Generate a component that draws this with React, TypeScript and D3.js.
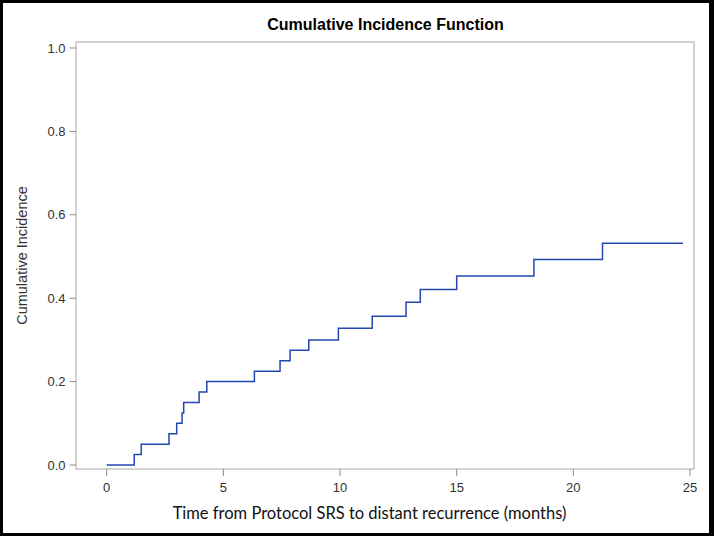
import React from "react";
import * as d3 from "d3";

const times = [0, 1.18, 1.48, 2.67, 3.0, 3.23, 3.3, 3.96, 4.29, 6.33, 7.43, 7.86, 8.66, 9.93, 11.38, 12.83, 13.44, 15.0, 18.31, 21.25, 24.7];
const incidence = [0, 0.025, 0.05, 0.075, 0.1, 0.125, 0.15, 0.175, 0.2, 0.225, 0.25, 0.275, 0.3, 0.328, 0.357, 0.39, 0.421, 0.453, 0.493, 0.532, 0.532];
const xTicks = [0, 5, 10, 15, 20, 25];
const yTicks = [0, 0.2, 0.4, 0.6, 0.8, 1.0];

const W = 714;
const H = 536;
const frame = { left: 76, right: 694, top: 42, bottom: 469 };

export default function App() {
  const x = d3.scaleLinear().domain([0, 25]).range([106.7, 690]);
  const y = d3.scaleLinear().domain([0, 1]).range([465, 48]);
  const pts: [number, number][] = times.map((t, i) => [t, incidence[i]]);
  const line = d3
    .line<[number, number]>()
    .x((d) => x(d[0]))
    .y((d) => y(d[1]))
    .curve(d3.curveStepAfter);

  const tickFont = "'Liberation Sans', Arial, sans-serif";
  return (
    <svg
      width={W}
      height={H}
      style={{ position: "absolute", left: 0, top: 0, background: "#fff" }}
    >
      <rect x={0} y={0} width={W} height={H} fill="#fff" />
      <text
        x={385.5}
        y={30}
        textAnchor="middle"
        fontFamily={tickFont}
        fontWeight="bold"
        fontSize={16}
        fill="#000"
      >
        Cumulative Incidence Function
      </text>
      <rect
        x={frame.left}
        y={frame.top}
        width={frame.right - frame.left}
        height={frame.bottom - frame.top}
        fill="none"
        stroke="#a8a8a8"
        strokeWidth={1}
      />
      {yTicks.map((v) => (
        <g key={"y" + v}>
          <line x1={69.5} x2={frame.left} y1={y(v)} y2={y(v)} stroke="#8c8c8c" strokeWidth={1} />
          <text
            x={65.5}
            y={y(v) + 4.5}
            textAnchor="end"
            fontFamily={tickFont}
            fontSize={13}
            fill="#333"
          >
            {v.toFixed(1)}
          </text>
        </g>
      ))}
      {xTicks.map((v) => (
        <g key={"x" + v}>
          <line x1={x(v)} x2={x(v)} y1={frame.bottom} y2={476} stroke="#8c8c8c" strokeWidth={1} />
          <text
            x={x(v)}
            y={492}
            textAnchor="middle"
            fontFamily={tickFont}
            fontSize={13}
            fill="#333"
          >
            {v}
          </text>
        </g>
      ))}
      <text
        transform={`translate(27,255.5) rotate(-90)`}
        textAnchor="middle"
        fontFamily={tickFont}
        fontSize={14.5}
        fill="#333"
      >
        Cumulative Incidence
      </text>
      <text
        x={369.5}
        y={519}
        textAnchor="middle"
        fontFamily="Lato, 'Open Sans', sans-serif"
        fontSize={16.5}
        fill="#111"
      >
        Time from Protocol SRS to distant recurrence (months)
      </text>
      <path d={line(pts) || ""} fill="none" stroke="#2446b0" strokeWidth={1.5} />
      <rect x={0} y={0} width={3} height={H} fill="#000" />
      <rect x={0} y={0} width={W} height={3} fill="#000" />
      <rect x={W - 5} y={0} width={5} height={H} fill="#000" />
      <rect x={0} y={H - 3} width={W} height={3} fill="#000" />
    </svg>
  );
}
